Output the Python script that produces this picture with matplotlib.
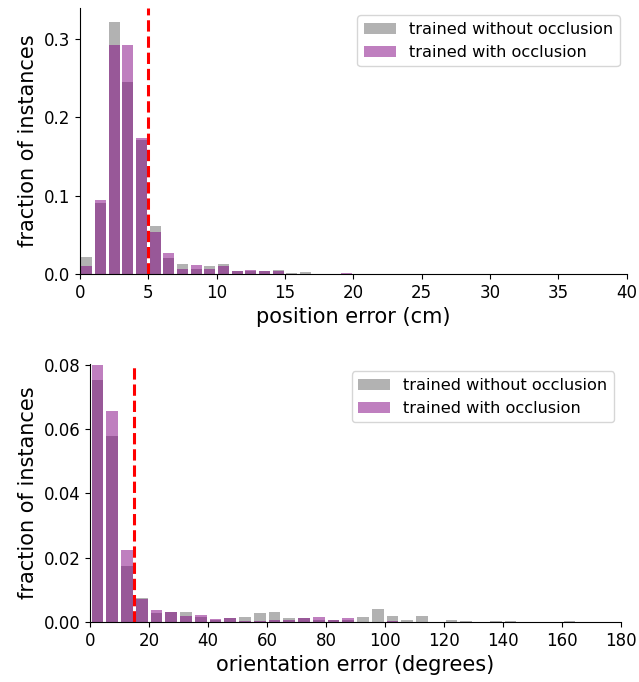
import numpy as np
import matplotlib
matplotlib.use('Agg')
import matplotlib.pyplot as plt

# position error histogram, 1 cm bins from 0 to 40
pos_bin_width = 1.0
pos_without = [0.022, 0.091, 0.322, 0.245, 0.171, 0.061, 0.020, 0.013, 0.007, 0.010,
               0.013, 0.004, 0.004, 0.004, 0.005, 0.0013, 0.0025, 0, 0, 0.0008] + [0] * 20
pos_with = [0.011, 0.095, 0.292, 0.292, 0.174, 0.054, 0.027, 0.007, 0.012, 0.006,
            0.011, 0.004, 0.005, 0.004, 0.004, 0, 0, 0, 0, 0.0013] + [0] * 20

# orientation error histogram, 5 degree bins from 0 to 180
ori_bin_width = 5.0
ori_without = [0.0753, 0.058, 0.0174, 0.0076, 0.0029, 0.0032, 0.0031, 0.0015, 0.0006, 0.0012,
               0.0015, 0.0028, 0.0031, 0.0012, 0.0012, 0.0006, 0.0006, 0.0006, 0.0015, 0.004,
               0.0019, 0.0006, 0.0019, 0, 0.0006, 0.0003, 0, 0.0003, 0.0003, 0,
               0, 0, 0.0003, 0, 0, 0]
ori_with = [0.080, 0.0657, 0.0224, 0.0072, 0.0038, 0.0032, 0.0019, 0.0022, 0.0009, 0.0012,
            0.0003, 0.0003, 0.0006, 0.0006, 0.0012, 0.0015, 0.0006, 0.0012, 0, 0,
            0.0003, 0, 0, 0, 0, 0, 0, 0, 0, 0,
            0, 0, 0, 0, 0, 0]

label_without = 'trained without occlusion'
label_with = 'trained with occlusion'

fig = plt.figure(figsize=(6.39, 6.82), dpi=100)
ax1 = fig.add_axes([0.125, 0.598, 0.856, 0.39])
ax2 = fig.add_axes([0.141, 0.088, 0.831, 0.378])


def draw(ax, without, with_, width, thresh, xmax, ymax, xlabel, xticks, yticks, yfmt):
    centers = (np.arange(len(without)) + 0.5) * width
    ax.bar(centers, without, width=0.8 * width, color='gray', alpha=0.6, label=label_without)
    ax.bar(centers, with_, width=0.8 * width, color='purple', alpha=0.5, label=label_with)
    ax.axvline(thresh, color='red', linestyle='--', linewidth=2.2)
    ax.set_xlim(0, xmax)
    ax.set_ylim(0, ymax)
    ax.set_xticks(xticks)
    ax.set_yticks(yticks)
    ax.set_yticklabels([yfmt.format(v) for v in yticks])
    ax.tick_params(labelsize=12)
    ax.set_xlabel(xlabel, fontsize=15)
    ax.set_ylabel('fraction of instances', fontsize=15)
    ax.spines['top'].set_visible(False)
    ax.spines['right'].set_visible(False)
    ax.legend(loc='upper right', fontsize=11.6, borderaxespad=0.45)


draw(ax1, pos_without, pos_with, pos_bin_width, 5, 40, 0.339, 'position error (cm)',
     np.arange(0, 41, 5), [0.0, 0.1, 0.2, 0.3], '{:.1f}')
draw(ax2, ori_without, ori_with, ori_bin_width, 15, 180, 0.0802, 'orientation error (degrees)',
     np.arange(0, 181, 20), [0.0, 0.02, 0.04, 0.06, 0.08], '{:.2f}')

fig.savefig('out.png', dpi=100)
